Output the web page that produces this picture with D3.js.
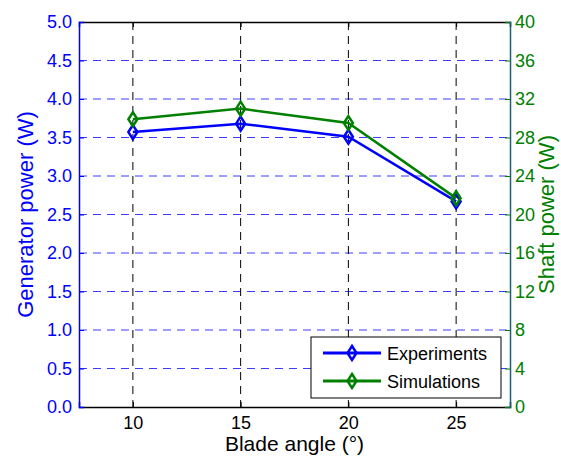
<!DOCTYPE html>
<html>
<head>
<meta charset="utf-8">
<script src="https://cdn.jsdelivr.net/npm/d3@7"></script>
<style>
body{margin:0;background:#fff;}
text{font-family:"Liberation Sans",Arial,sans-serif;}
</style>
</head>
<body>
<script>
// data
var bladeAngles=[10,15,20,25];
var experiments=[3.57,3.68,3.51,2.67];   // generator power (W)
var simulations=[29.9,31.0,29.5,21.7];   // shaft power (W)
var leftTicks=[0,0.5,1,1.5,2,2.5,3,3.5,4,4.5,5];
var rightTicks=[0,4,8,12,16,20,24,28,32,36,40];
var seriesNames=["Experiments","Simulations"];

var W=561,H=458;
var m={left:79,right:51,top:22,bottom:51};
var pw=W-m.left-m.right, ph=H-m.top-m.bottom;

var svg=d3.select("body").append("svg")
            .attr("width",W)
            .attr("height",H);

var x=d3.scaleLinear().domain([7.5,27.5]).range([m.left,m.left+pw]);
var yL=d3.scaleLinear().domain([0,5]).range([m.top+ph,m.top]);
var yR=d3.scaleLinear().domain([0,40]).range([m.top+ph,m.top]);

var blue="#0000ff", green="#008000", teal="#1b5f7a";

//grid
var grid=svg.append("g").attr("class","grid");
grid.selectAll("line.h").data(leftTicks.slice(1,-1)).enter().append("line")
        .attr("x1",m.left).attr("x2",m.left+pw)
        .attr("y1",function(d){return yL(d);}).attr("y2",function(d){return yL(d);})
        .attr("stroke","#3c3cff").attr("stroke-width",1)
        .attr("stroke-dasharray","8,6");
grid.selectAll("line.v").data(bladeAngles).enter().append("line")
        .attr("x1",function(d){return x(d);}).attr("x2",function(d){return x(d);})
        .attr("y1",m.top).attr("y2",m.top+ph)
        .attr("stroke","#000").attr("stroke-width",1)
        .attr("stroke-dasharray","8,6");

//axes
var xAxis=svg.append("g").attr("transform","translate(0,"+(m.top+ph)+")")
        .call(d3.axisBottom(x).tickValues(bladeAngles).tickSize(-5).tickPadding(9));
var xTop=svg.append("g").attr("transform","translate(0,"+m.top+")")
        .call(d3.axisTop(x).tickValues(bladeAngles).tickSize(-5).tickFormat(""));
var yAxisL=svg.append("g").attr("transform","translate("+m.left+",0)")
        .call(d3.axisLeft(yL).tickValues(leftTicks).tickSize(-5).tickPadding(7).tickFormat(d3.format(".1f")));
var yAxisR=svg.append("g").attr("transform","translate("+(m.left+pw)+",0)")
        .call(d3.axisRight(yR).tickValues(rightTicks).tickSize(-5).tickPadding(5));

[xAxis,xTop,yAxisL,yAxisR].forEach(function(a){
    a.selectAll("path").attr("stroke-width",1.5);
    a.selectAll("text").attr("font-size",18).attr("font-family","Liberation Sans, Arial, sans-serif");
});
xAxis.selectAll("path,line").attr("stroke","#000");
xAxis.selectAll("text").attr("fill","#000");
xTop.selectAll("path,line").attr("stroke","#000");
yAxisL.selectAll("path,line").attr("stroke",blue);
yAxisL.selectAll("text").attr("fill",blue);
yAxisR.selectAll("path").attr("stroke",teal);
yAxisR.selectAll("line").attr("stroke",green);
yAxisR.selectAll("text").attr("fill",green);

//axis titles
svg.append("text").attr("x",x(17.5)).attr("y",451)
        .attr("text-anchor","middle").attr("font-size",21).attr("fill","#000")
        .text("Blade angle (°)");
svg.append("text").attr("transform","translate(33,"+(m.top+ph/2)+") rotate(-90)")
        .attr("text-anchor","middle").attr("font-size",22).attr("fill",blue)
        .text("Generator power (W)");
svg.append("text").attr("transform","translate(554,"+(m.top+ph/2)+") rotate(-90)")
        .attr("text-anchor","middle").attr("font-size",22).attr("fill",green)
        .text("Shaft power (W)");

//series
var diamond="M0,-7L4.5,0L0,7L-4.5,0Z";
function drawSeries(vals,yScale,col){
    var pts=bladeAngles.map(function(a,i){return [x(a),yScale(vals[i])];});
    var g=svg.append("g");
    g.append("path").attr("d",d3.line()(pts))
        .attr("fill","none").attr("stroke",col).attr("stroke-width",2.5);
    g.selectAll("path.mk").data(pts).enter().append("path")
        .attr("class","mk")
        .attr("d",diamond)
        .attr("transform",function(p){return "translate("+p[0]+","+p[1]+")";})
        .attr("fill","none").attr("stroke",col).attr("stroke-width",2.5);
}
drawSeries(experiments,yL,blue);
drawSeries(simulations,yR,green);

//legend
var legend=svg.append("g").attr("transform","translate(311,337)");
legend.append("rect").attr("width",190).attr("height",61)
        .attr("fill","#fff").attr("stroke","#000").attr("stroke-width",1);
[blue,green].forEach(function(c,i){
    var ly=16+i*28;
    legend.append("line").attr("x1",12).attr("x2",70).attr("y1",ly).attr("y2",ly)
        .attr("stroke",c).attr("stroke-width",3);
    legend.append("path").attr("d",diamond)
        .attr("transform","translate(41,"+ly+")")
        .attr("fill","none").attr("stroke",c).attr("stroke-width",2.5);
    legend.append("text").attr("x",76).attr("y",ly+7)
        .attr("font-size",18).attr("fill","#000").text(seriesNames[i]);
});
</script>
</body>
</html>
